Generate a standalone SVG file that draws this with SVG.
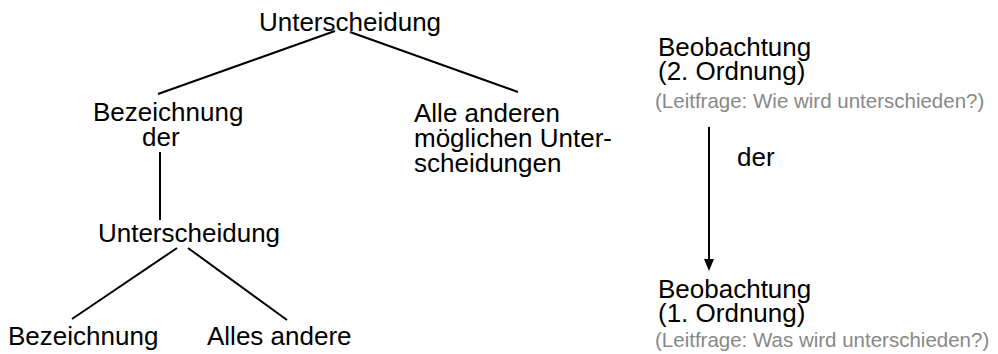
<svg xmlns="http://www.w3.org/2000/svg" width="998" height="354" viewBox="0 0 998 354">
<style>
text{font-family:"Liberation Sans",Arial,sans-serif;font-size:26px;fill:#000}
.g{font-size:20.5px;fill:#888}
.c{stroke:#000;stroke-width:2;fill:none}
</style>
<rect width="998" height="354" fill="#fff"/>
<g id="connectors">
<line class="c" x1="335" y1="31" x2="158" y2="94"/>
<line class="c" x1="350" y1="32" x2="518" y2="92"/>
<line class="c" x1="160" y1="152" x2="160" y2="220"/>
<line class="c" x1="177" y1="248" x2="72" y2="319"/>
<line class="c" x1="188" y1="248" x2="287" y2="320"/>
<line x1="709" y1="127" x2="709" y2="259" stroke="#000" stroke-width="2"/>
<path d="M704,259 L714,259 L709,271 Z" fill="#000"/>
</g>
<g id="n-root"><text x="350" y="31" text-anchor="middle">Unterscheidung</text></g>
<g id="n-bez-der"><text x="93" y="121">Bezeichnung</text><text x="142" y="146">der</text></g>
<g id="n-alle"><text x="414" y="122">Alle anderen</text><text x="414" y="147">möglichen Unter-</text><text x="414" y="172">scheidungen</text></g>
<g id="n-unt2"><text x="189" y="242" text-anchor="middle">Unterscheidung</text></g>
<g id="n-bez"><text x="8" y="345">Bezeichnung</text></g>
<g id="n-alles"><text x="207" y="345">Alles andere</text></g>
<g id="n-beob2"><text x="658" y="56">Beobachtung</text><text x="658" y="80">(2. Ordnung)</text><text class="g" x="655" y="108">(Leitfrage: Wie wird unterschieden?)</text></g>
<g id="l-der"><text x="737" y="166">der</text></g>
<g id="n-beob1"><text x="658" y="298">Beobachtung</text><text x="658" y="322">(1. Ordnung)</text><text class="g" x="655" y="347">(Leitfrage: Was wird unterschieden?)</text></g>
</svg>
